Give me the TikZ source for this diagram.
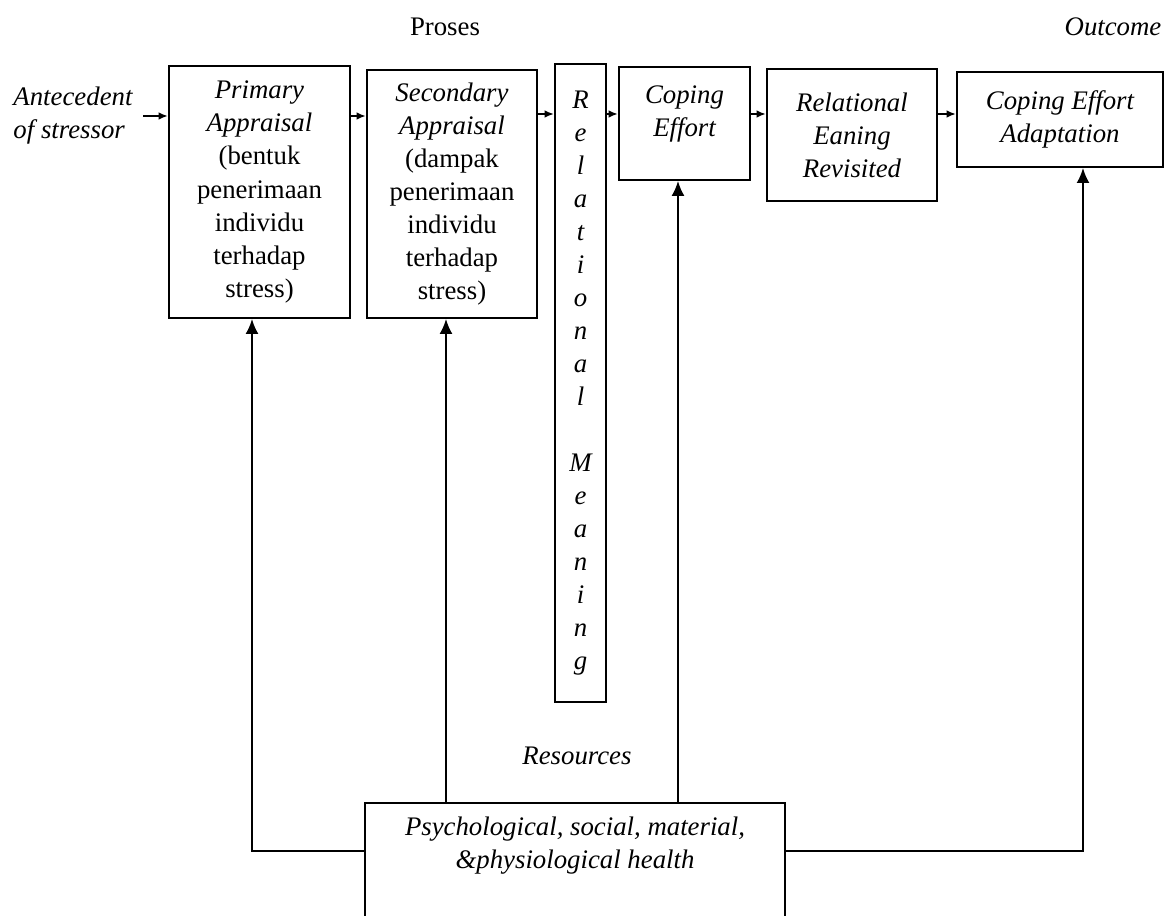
\documentclass[tikz,border=0pt]{standalone}
\usepackage{fontspec}
\setmainfont{Liberation Serif}
\usetikzlibrary{arrows.meta}
\tikzset{
  box/.style={draw,line width=0.9pt,inner sep=0pt,align=center,
    font=\fontsize{12}{14.8}\selectfont},
  lbl/.style={inner sep=0pt,align=center,font=\fontsize{12}{14.8}\selectfont},
  flow/.style={line width=0.9pt,-{Latex[length=4.2pt,width=3.4pt]}},
  feed/.style={line width=0.8pt,-{Latex[length=6.7pt,width=5.8pt]}}
}
\begin{document}
\begin{tikzpicture}[x=0.448pt,y=-0.448pt]
        \useasboundingbox (0,0) rectangle (1168,916);
        \clip (0,0) rectangle (1168,916);
        % --- titoli ---
        \node[lbl] (proses) at (445,27) {Proses};
        \node[lbl,font=\fontsize{12}{14.8}\selectfont\itshape] (outcome) at (1113,27) {Outcome};
        % --- catena principale ---
        \node[lbl,align=left,anchor=west,inner xsep=4.5pt] (ante) at (3,116)
            {\textit{Antecedent}\\\textit{of stressor}};
        \node[box,minimum width=81.1pt,minimum height=112.9pt] (prim) at (259.5,192)
            {\textit{Primary}\\\textit{Appraisal}\\(bentuk\\penerimaan\\individu\\terhadap\\stress)};
        \node[box,minimum width=76.2pt,minimum height=111.1pt] (sec) at (452,194)
            {\textit{Secondary}\\\textit{Appraisal}\\(dampak\\penerimaan\\individu\\terhadap\\stress)};
        \node[box,minimum width=22.8pt,minimum height=285.4pt,font=\fontsize{12}{14.8}\selectfont\itshape] (rel) at (580.5,383)
            {R\\e\\l\\a\\t\\i\\o\\n\\a\\l\\ \\M\\e\\a\\n\\i\\n\\g};
        \node[box,minimum width=58.7pt,minimum height=50.6pt,text depth=11pt,font=\fontsize{12}{14.8}\selectfont\itshape] (ce) at (684.5,123.5)
            {Coping\\Effort};
        \node[box,minimum width=76.2pt,minimum height=59.1pt,font=\fontsize{12}{14.8}\selectfont\itshape] (re) at (852,135)
            {Relational\\Eaning\\Revisited};
        \node[box,minimum width=92.3pt,minimum height=42.6pt,font=\fontsize{12}{14.8}\selectfont\itshape] (cea) at (1060,119.5)
            {Coping Effort\\Adaptation};
        \draw[flow] (ante.east) -- (ante -| prim.west);
        \draw[flow] (prim.east |- ante) -- (sec.west |- ante);
        \draw[flow] (sec.east |- 0,114) -- (rel.west |- 0,114);
        \draw[flow] (rel.east |- 0,114) -- (ce.west |- 0,114);
        \draw[flow] (ce.east |- 0,114) -- (re.west |- 0,114);
        \draw[flow] (re.east |- 0,114) -- (cea.west |- 0,114);
        % --- risorse ---
        \node[lbl,font=\fontsize{12}{14.8}\selectfont\itshape] (restitle) at (577,756) {Resources};
        \node[draw,line width=0.9pt,anchor=north,minimum width=188.2pt,minimum height=89.6pt] (res) at (575,802) {};
        \node[lbl,font=\fontsize{12}{14.8}\selectfont\itshape] (restext) at (res.north |- 0,846)
            {Psychological, social, material,\\\&physiological health};
        \draw[feed] (res.west |- 0,851) -| (prim.south -| 252,0);
        \draw[feed] (res.north -| 446,0) -- (sec.south -| 446,0);
        \draw[feed] (res.north -| 678,0) -- (ce.south -| 678,0);
        \draw[feed] (res.east |- 0,851) -| (cea.south -| 1083,0);
    \end{tikzpicture}
\end{document}
